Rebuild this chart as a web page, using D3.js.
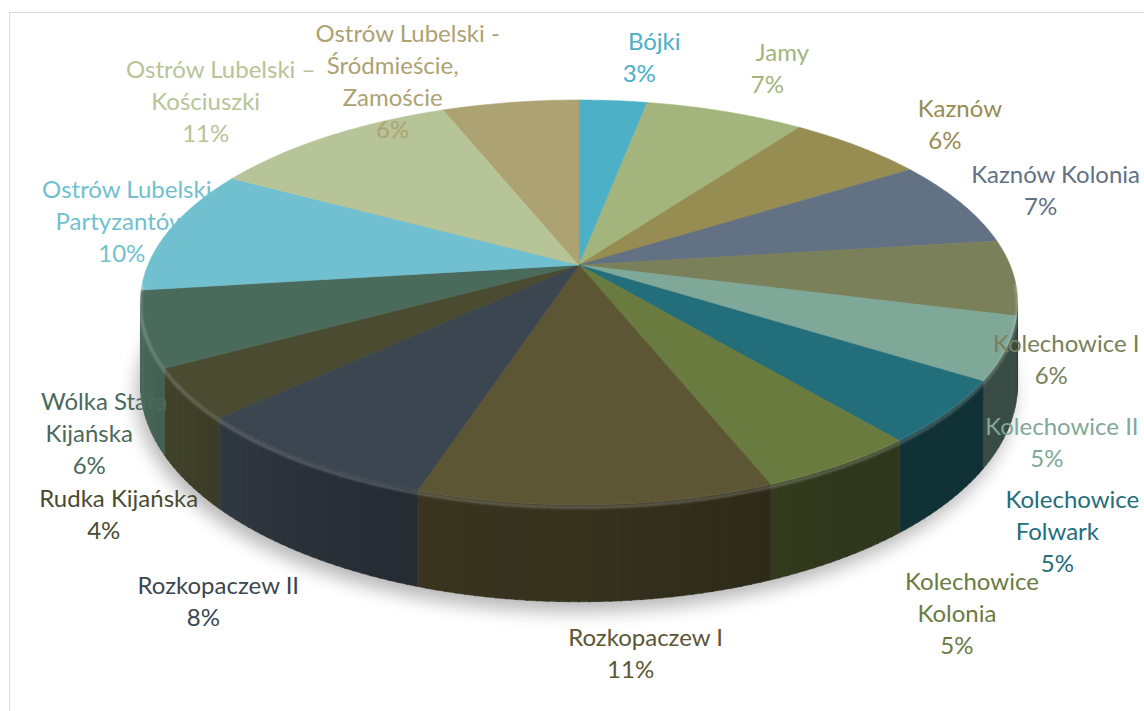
<!DOCTYPE html>
<html>
<head>
<meta charset="utf-8">
<script src="https://cdn.jsdelivr.net/npm/d3@7"></script>
<style>
  body { margin: 0; background: #fff; }
  text { font-family: Lato, "Open Sans", sans-serif; }
</style>
</head>
<body>
<div id="chart"></div>
<script>
// udział miejscowości (%)
let categories = ["Bójki", "Jamy", "Kaznów", "Kaznów Kolonia", "Kolechowice I", "Kolechowice II",
  "Kolechowice\nFolwark", "Kolechowice\nKolonia", "Rozkopaczew I", "Rozkopaczew II", "Rudka Kijańska",
  "Wólka Stara\nKijańska", "Ostrów Lubelski –\nPartyzantów", "Ostrów Lubelski –\nKościuszki",
  "Ostrów Lubelski -\nŚródmieście,\nZamoście"];
let values = [3, 7, 6, 7, 6, 5, 5, 5, 11, 8, 4, 6, 10, 11, 6];
let colors = ["#4cb0c7", "#a3b57c", "#978c52", "#637185", "#7a8059", "#7fa899", "#236e7b", "#6a7b3f",
  "#5c5634", "#3c4651", "#4a4b31", "#4a6a5b", "#71c0d0", "#b7c497", "#ada272"];
// label shift from the rim point at the middle of each slice
let labelNudge = [[41,-43],[57,-43],[102,-22],[95,-12],[52,82],[56,94],[125,119],[132,148],
  [50,149],[-87,141],[-69,121],[-40,105],[-33,-8],[-108,-35],[-103,-21]];
let hiddenLabel = 12;   // this one sits behind the top of the pie

let width = 1144;
let height = 711;
let cx = 579, cy = 265;      // apex of the pie
let A = 431, B = 195.5;      // radii of the disc
let K = 0.185;               // perspective
let depth = 79;              // thickness
let lineH = 32;

let svg = d3.select("#chart").append("svg")
  .attr("width", width).attr("height", height);

let defs = svg.append("defs");
defs.append("filter").attr("id", "shadow").attr("x", "-20%").attr("y", "-20%")
  .attr("width", "140%").attr("height", "140%")
  .append("feGaussianBlur").attr("stdDeviation", 9);
defs.append("filter").attr("id", "soft")
  .append("feGaussianBlur").attr("stdDeviation", 1.2);

svg.append("rect").attr("x", 9.5).attr("y", 12.5).attr("width", 1200).attr("height", 800)
  .attr("fill", "none").attr("stroke", "#d9d9d9");

function proj(phi, rho, z) {
  let u = rho * Math.sin(phi), v = -rho * Math.cos(phi);
  let d = 1 - K * v;
  return [cx + A * u / d, cy + (B * v + z) / d];
}
function arcPts(a0, a1, z) {
  let n = Math.max(2, Math.ceil((a1 - a0) / 0.008));
  return d3.range(n + 1).map(i => proj(a0 + (a1 - a0) * i / n, 1, z));
}
let line = d3.line();

let pie = d3.pie().sort(null).value(d => d);
let arcs = pie(values);
let total = d3.sum(values);
let fmt = d3.format(".0%");

// shadow under the pie
svg.append("path")
  .attr("d", line(arcPts(0, 2 * Math.PI, depth).map(p => [p[0] - 4, p[1] + 10])) + "Z")
  .attr("fill", "#000").attr("opacity", 0.28).attr("filter", "url(#shadow)");

// side walls, only the part that faces us
let silR = Math.acos(-K), silL = 2 * Math.PI - silR;
let sides = svg.append("g").attr("class", "sides");
arcs.forEach(function(a, i) {
  let s0 = Math.max(a.startAngle, silR), s1 = Math.min(a.endAngle, silL);
  if (s1 <= s0) return;
  let steps = Math.max(1, Math.ceil((s1 - s0) / 0.02));
  for (let j = 0; j < steps; j++) {
    let p0 = s0 + (s1 - s0) * j / steps, p1 = s0 + (s1 - s0) * (j + 1) / steps;
    let u = Math.sin((p0 + p1) / 2);
    let f = u < 0 ? 0.58 + 0.42 * u * u : Math.max(0.45, 0.58 - 0.26 * u);
    let c = d3.rgb(colors[i]);
    let col = d3.rgb(c.r * f, c.g * f, c.b * f).toString();
    let pts = arcPts(p0, Math.min(p1 + 0.004, s1), 0).concat(arcPts(p0, Math.min(p1 + 0.004, s1), depth).reverse());
    sides.append("path").attr("d", line(pts) + "Z")
      .attr("fill", col).attr("stroke", col).attr("stroke-width", 0.5);
  }
});

let underLabels = svg.append("g").attr("class", "labels-under");
let topFace = svg.append("g").attr("class", "top");
let overLabels = svg.append("g").attr("class", "labels");

// top face
topFace.selectAll("path").data(arcs).enter().append("path")
  .attr("d", d => line([[cx, cy]].concat(arcPts(d.startAngle, d.endAngle, 0))) + "Z")
  .attr("fill", (d, i) => colors[i])
  .attr("stroke", (d, i) => colors[i]).attr("stroke-width", 0.6);

// light bevel on the front rim
topFace.append("path")
  .attr("d", line(arcPts(silR - 0.1, silL + 0.1, 2)))
  .attr("fill", "none").attr("stroke", "#fff").attr("stroke-opacity", 0.22)
  .attr("stroke-width", 3).attr("filter", "url(#soft)");

// labels: first row centred on x, the rest a little to the left (as Excel draws them)
arcs.forEach(function(d, i) {
  let mid = (d.startAngle + d.endAngle) / 2;
  let p = proj(mid, 1, 0);
  let x = p[0] + labelNudge[i][0];
  let y = p[1] + labelNudge[i][1];
  let rows = categories[i].split("\n").concat([fmt(d.value / total)]);
  let top = y - (rows.length - 1) * lineH / 2;
  let g = i === hiddenLabel ? underLabels : overLabels;
  g.append("text")
    .attr("text-anchor", "middle")
    .attr("font-size", "24px")
    .attr("fill", colors[i])
    .selectAll("tspan").data(rows).enter().append("tspan")
    .attr("x", (r, k) => k === 0 ? x : x - 15)
    .attr("y", (r, k) => top + k * lineH)
    .attr("dy", "0.35em")
    .text(r => r);
});
</script>
</body>
</html>
